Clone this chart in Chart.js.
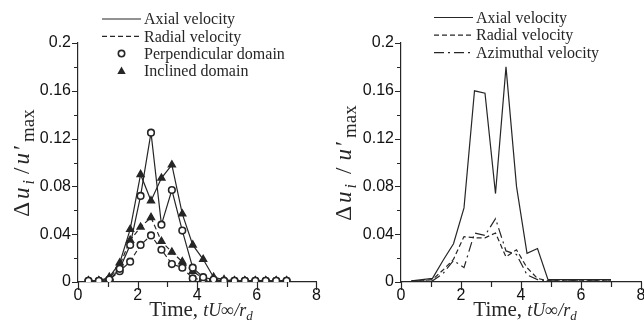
<!DOCTYPE html>
<html>
<head>
<meta charset="utf-8">
<script src="https://cdn.jsdelivr.net/npm/chart.js@4.4.1/dist/chart.umd.min.js"></script>
<style>
  html, body { margin: 0; padding: 0; background: #fff; }
  body { width: 644px; height: 328px; overflow: hidden; position: relative; }
  .panel { position: absolute; top: 0; width: 322px; height: 328px; }
</style>
</head>
<body>
<div class="panel" style="left:0"><canvas id="left" width="322" height="328"></canvas></div>
<div class="panel" style="left:322px"><canvas id="right" width="322" height="328"></canvas></div>
<script>
// time axis, tU/r_d
const timeSteps = [0.35, 0.7, 1.05, 1.4, 1.75, 2.1, 2.45, 2.8, 3.15, 3.5, 3.85, 4.2, 4.55, 4.9, 5.25, 5.6, 5.95, 6.3, 6.65, 7.0];

// left panel
const perpAxial  = [0.001, 0.001, 0.002, 0.011, 0.031, 0.072, 0.125, 0.048, 0.077, 0.043, 0.012, 0.004, 0.002, 0.001, 0.001, 0.001, 0.001, 0.001, 0.001, 0.001];
const perpRadial = [0.001, 0.001, 0.002, 0.009, 0.017, 0.031, 0.039, 0.027, 0.015, 0.012, 0.003, 0.002, 0.001, 0.001, 0.001, 0.001, 0.001, 0.001, 0.001, 0.001];
const inclAxial  = [0.001, 0.001, 0.004, 0.016, 0.044, 0.090, 0.068, 0.087, 0.098, 0.057, 0.031, 0.019, 0.004, 0.002, 0.001, 0.001, 0.001, 0.001, 0.001, 0.001];
const inclRadial = [0.001, 0.001, 0.003, 0.014, 0.035, 0.046, 0.054, 0.034, 0.025, 0.017, 0.009, 0.003, 0.002, 0.001, 0.001, 0.001, 0.001, 0.001, 0.001, 0.001];

// right panel
const axialVel     = [0.001, 0.002, 0.003, 0.018, 0.032, 0.062, 0.160, 0.158, 0.074, 0.180, 0.080, 0.024, 0.028, 0.002, 0.002, 0.002, 0.002, 0.002, 0.002, 0.002];
const radialVel    = [0.001, 0.001, 0.002, 0.010, 0.019, 0.038, 0.037, 0.037, 0.041, 0.021, 0.027, 0.012, 0.003, 0.001, 0.001, 0.001, 0.001, 0.001, 0.001, 0.001];
const azimuthalVel = [0.001, 0.001, 0.001, 0.007, 0.018, 0.012, 0.041, 0.039, 0.053, 0.026, 0.023, 0.006, 0.002, 0.001, 0.001, 0.001, 0.001, 0.001, 0.001, 0.001];

const legendLeft  = ['Axial velocity', 'Radial velocity', 'Perpendicular domain', 'Inclined domain'];
const legendRight = ['Axial velocity', 'Radial velocity', 'Azimuthal velocity'];
const xMajorTicks = [0, 2, 4, 6, 8];
const yMajorTicks = [0, 0.04, 0.08, 0.12, 0.16, 0.2];

const INK = '#262626';
const SERIF = '"Liberation Serif", "DejaVu Serif", serif';
const SANS = '"Liberation Sans", Arial, sans-serif';
const DASH = [5, 3];
const DASHDOT = [10, 4, 2, 4];

function pts(vals) {
  return timeSteps.map((t, i) => ({ x: t, y: vals[i] }));
}

function isMajor(v, list) {
  return list.some(m => Math.abs(m - v) < 1e-6);
}

// draw a run of text pieces (font, offset) starting at x
function runText(ctx, parts, x, y, spacing) {
  parts.forEach(p => {
    ctx.font = p.f;
    ctx.fillText(p.t, x, y + p.dy);
    x += ctx.measureText(p.t).width + (p.gap || 0) + spacing;
  });
}
function runWidth(ctx, parts, spacing) {
  let w = 0;
  parts.forEach(p => { ctx.font = p.f; w += ctx.measureText(p.t).width + (p.gap || 0) + spacing; });
  return w - spacing;
}

// minor/major ticks, legend and axis titles
const decor = {
  id: 'decor',
  afterDraw(chart, args, o) {
    const ctx = chart.ctx;
    const xs = chart.scales.x, ys = chart.scales.y;
    const a = chart.chartArea;
    ctx.save();
    ctx.strokeStyle = INK;
    ctx.lineWidth = 1.2;
    // ticks
    ctx.beginPath();
    for (let v = 0; v <= 8.001; v += 1) {
      const px = Math.round(xs.getPixelForValue(v)) + 0.5;
      const len = isMajor(v, xMajorTicks) ? 8 : 5;
      ctx.moveTo(px, a.bottom); ctx.lineTo(px, a.bottom + len);
    }
    for (let k = 0; k <= 10; k++) {
      const v = k * 0.02;
      const py = Math.round(ys.getPixelForValue(v)) + 0.5;
      const len = isMajor(v, yMajorTicks) ? 6 : 4;
      ctx.moveTo(a.left, py); ctx.lineTo(a.left - len, py);
    }
    ctx.stroke();

    // legend
    ctx.textBaseline = 'middle';
    ctx.fillStyle = INK;
    o.legend.forEach((item, i) => {
      const y = o.legendY + i * o.legendGap;
      if (item.dash) {
        ctx.setLineDash(item.dash);
        ctx.lineWidth = 1.2;
        ctx.beginPath();
        ctx.moveTo(o.legendX0, y); ctx.lineTo(o.legendX1, y);
        ctx.stroke();
        ctx.setLineDash([]);
      }
      if (item.marker === 'circle') {
        ctx.beginPath();
        ctx.lineWidth = 1.6;
        ctx.arc((o.legendX0 + o.legendX1) / 2, y, 3.2, 0, Math.PI * 2);
        ctx.fillStyle = '#fff'; ctx.fill(); ctx.stroke();
        ctx.fillStyle = INK;
      } else if (item.marker === 'triangle') {
        const cx = (o.legendX0 + o.legendX1) / 2;
        ctx.beginPath();
        ctx.moveTo(cx, y - 4.5); ctx.lineTo(cx + 4.2, y + 3); ctx.lineTo(cx - 4.2, y + 3);
        ctx.closePath(); ctx.fill();
      }
      ctx.font = '16px ' + SERIF;
      ctx.fillText(item.text, o.legendX1 + 3, y + 1);
    });

    // x title
    ctx.textBaseline = 'alphabetic';
    const parts = [
      { t: 'Time, ', f: '21px ' + SERIF, dy: 0 },
      { t: 'tU\u221E/r', f: 'italic 18px ' + SERIF, dy: 0 },
      { t: 'd', f: 'italic 13px ' + SERIF, dy: 4 }
    ];
    runText(ctx, parts, o.xTitleCenter - runWidth(ctx, parts, 0) / 2, 316, 0);

    // y title, rotated
    ctx.translate(o.yTitleX, o.yTitleY);
    ctx.rotate(-Math.PI / 2);
    const yparts = [
      { t: '\u0394', f: '23px ' + SERIF, dy: 0 },
      { t: 'u', f: 'italic 23px ' + SERIF, dy: 0 },
      { t: 'i', f: 'italic 16px ' + SERIF, dy: 5, gap: o.slashGap },
      { t: '/', f: '23px ' + SERIF, dy: 0, gap: o.slashGap - 3 },
      { t: 'u', f: 'italic 23px ' + SERIF, dy: 0 },
      { t: '\u2032', f: '23px ' + SERIF, dy: 0 },
      { t: 'max', f: '19px ' + SERIF, dy: 5 }
    ];
    runText(ctx, yparts, -runWidth(ctx, yparts, 3) / 2, 0, 3);
    ctx.restore();
  }
};

function makeChart(id, datasets, opts) {
  return new Chart(document.getElementById(id), {
    type: 'line',
    data: { datasets },
    plugins: [decor],
    options: {
      responsive: false,
      animation: false,
      layout: { padding: { left: 0, top: 43, right: opts.padRight, bottom: 0 } },
      plugins: {
        legend: { display: false },
        tooltip: { enabled: false },
        decor: opts.decor
      },
      elements: { line: { tension: 0, borderWidth: 1.2, borderColor: INK } },
      scales: {
        x: {
          type: 'linear', min: 0, max: 8,
          grid: { display: false, drawTicks: false },
          border: { display: true, color: INK, width: 1.2 },
          ticks: {
            stepSize: 2, padding: 4, color: '#111',
            font: { family: SANS, size: 16 },
            maxRotation: 0,
            callback: v => isMajor(v, xMajorTicks) ? String(v) : ''
          },
          afterFit: s => { s.height = 46; s.paddingLeft = 0; s.paddingRight = 0; }
        },
        y: {
          type: 'linear', min: 0, max: 0.2,
          grid: { display: false, drawTicks: false },
          border: { display: true, color: INK, width: 1.2 },
          ticks: {
            stepSize: 0.04, padding: 7, color: '#111',
            font: { family: SANS, size: 16 },
            callback: v => isMajor(v, yMajorTicks) ? String(Math.round(v * 100) / 100) : ''
          },
          afterFit: s => { s.width = opts.yWidth; s.paddingTop = 0; s.paddingBottom = 0; }
        }
      }
    }
  });
}

const circle = { pointStyle: 'circle', pointRadius: 3.3, pointBorderWidth: 1.6, pointBackgroundColor: '#fff', pointBorderColor: INK };
const triangle = { pointStyle: 'triangle', pointRadius: 4, pointBorderWidth: 1.4, pointBackgroundColor: INK, pointBorderColor: INK };

makeChart('left', [
  Object.assign({ label: 'Perpendicular, axial', data: pts(perpAxial), borderColor: INK }, circle),
  Object.assign({ label: 'Perpendicular, radial', data: pts(perpRadial), borderColor: INK, borderDash: DASH }, circle),
  Object.assign({ label: 'Inclined, axial', data: pts(inclAxial), borderColor: INK }, triangle),
  Object.assign({ label: 'Inclined, radial', data: pts(inclRadial), borderColor: INK, borderDash: DASH }, triangle)
], {
  padRight: 4, yWidth: 78,
  decor: {
    legend: [
      { text: legendLeft[0], dash: [] },
      { text: legendLeft[1], dash: DASH },
      { text: legendLeft[2], marker: 'circle' },
      { text: legendLeft[3], marker: 'triangle' }
    ],
    legendX0: 102, legendX1: 141, legendY: 19, legendGap: 17.3,
    xTitleCenter: 201, yTitleX: 29, yTitleY: 163, slashGap: 3
  }
});

makeChart('right', [
  { label: legendRight[0], data: pts(axialVel), borderColor: INK, pointRadius: 0 },
  { label: legendRight[1], data: pts(radialVel), borderColor: INK, borderDash: DASH, pointRadius: 0 },
  { label: legendRight[2], data: pts(azimuthalVel), borderColor: INK, borderDash: DASHDOT, pointRadius: 0 }
], {
  padRight: 3, yWidth: 79,
  decor: {
    legend: [
      { text: legendRight[0], dash: [] },
      { text: legendRight[1], dash: DASH },
      { text: legendRight[2], dash: DASHDOT }
    ],
    legendX0: 112, legendX1: 151, legendY: 17.5, legendGap: 17.6,
    xTitleCenter: 203, yTitleX: 29, yTitleY: 163, slashGap: 7
  }
});
</script>
</body>
</html>
